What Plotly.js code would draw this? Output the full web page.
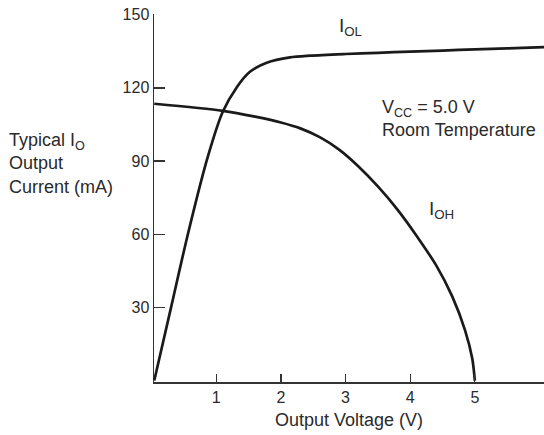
<!DOCTYPE html>
<html>
<head>
<meta charset="utf-8">
<script src="https://cdn.plot.ly/plotly-3.0.1.min.js"></script>
<style>html,body{margin:0;padding:0;background:#fff;}#chart{width:544px;height:435px;}</style>
</head>
<body>
<div id="chart"></div>
<script>
// Output voltage (V) and output current (mA)
const iolVoltage = [0.04, 0.30, 0.56, 0.86, 1.10, 1.32, 1.52, 1.78, 2.14, 2.45, 3.0, 3.5, 4.0, 4.5, 5.0, 5.5, 6.07];
const iolCurrent = [0, 30, 60, 91, 110.2, 120.4, 126.6, 130.3, 132.5, 133.2, 133.9, 134.4, 134.9, 135.3, 135.8, 136.2, 136.7];

const iohVoltage = [0.04, 1.10, 1.60, 2.00, 2.30, 2.60, 2.90, 3.20, 3.50, 3.80, 4.10, 4.40, 4.65, 4.85, 4.96, 5.0];
const iohCurrent = [113.5, 110.6, 108.2, 105.8, 103.4, 99.8, 94.7, 87.8, 79.6, 70.2, 59.3, 47.3, 34.5, 20.5, 9.0, 0];

const xTicks = [1, 2, 3, 4, 5];
const yTicks = [30, 60, 90, 120, 150];

const font = "Liberation Sans, Arial, sans-serif";
const txt = "#2a2a2a";
const lineStyle = {color: "#1a1a1a", width: 2.7, shape: "spline", smoothing: 0.8};

const traces = [
  {x: iolVoltage, y: iolCurrent, mode: "lines", line: lineStyle, hoverinfo: "skip"},
  {x: iohVoltage, y: iohCurrent, mode: "lines", line: lineStyle, hoverinfo: "skip"}
];

const layout = {
  width: 544, height: 435,
  margin: {l: 154, r: 0, t: 14, b: 53},
  paper_bgcolor: "#fff", plot_bgcolor: "#fff",
  showlegend: false,
  font: {family: font, size: 16, color: txt},
  xaxis: {
    range: [0.036, 6.07], tickvals: xTicks, ticktext: xTicks.map(String),
    ticks: "inside", ticklen: 8, tickwidth: 1.3, tickcolor: "#333",
    showline: true, linecolor: "#333", linewidth: 1.5,
    showgrid: false, zeroline: false, fixedrange: true,
    ticklabelstandoff: 0,
    tickfont: {family: font, size: 16, color: txt}
  },
  yaxis: {
    range: [-0.6, 150.3], tickvals: yTicks, ticktext: yTicks.map(String),
    ticks: "inside", ticklen: 11, tickwidth: 1.3, tickcolor: "#333",
    showline: true, linecolor: "#333", linewidth: 1.5,
    showgrid: false, zeroline: false, fixedrange: true,
    tickfont: {family: font, size: 16, color: txt}
  },
  annotations: [
    {xref: "paper", yref: "paper", x: -0.376, xanchor: "left", y: 0.595, yanchor: "middle",
     text: "Typical I<sub>O</sub><br>Output<br>Current (mA)", align: "left", showarrow: false,
     font: {family: font, size: 18, color: txt}},
    {xref: "paper", yref: "paper", x: 0.5, xanchor: "center", y: -0.103, yanchor: "middle",
     text: "Output Voltage (V)", showarrow: false,
     font: {family: font, size: 18, color: txt}},
    {xref: "x", yref: "y", x: 3.07, y: 144.8, text: "I<sub>OL</sub>", showarrow: false,
     font: {family: font, size: 19, color: txt}},
    {xref: "x", yref: "y", x: 4.48, y: 70, text: "I<sub>OH</sub>", showarrow: false,
     font: {family: font, size: 19, color: txt}},
    {xref: "x", yref: "y", x: 3.53, xanchor: "left", y: 107.5, yanchor: "middle",
     text: "V<sub>CC</sub> = 5.0 V<br>Room Temperature", align: "left", showarrow: false,
     font: {family: font, size: 18, color: txt}}
  ]
};

Plotly.newPlot("chart", traces, layout, {staticPlot: true, displayModeBar: false});
</script>
</body>
</html>
